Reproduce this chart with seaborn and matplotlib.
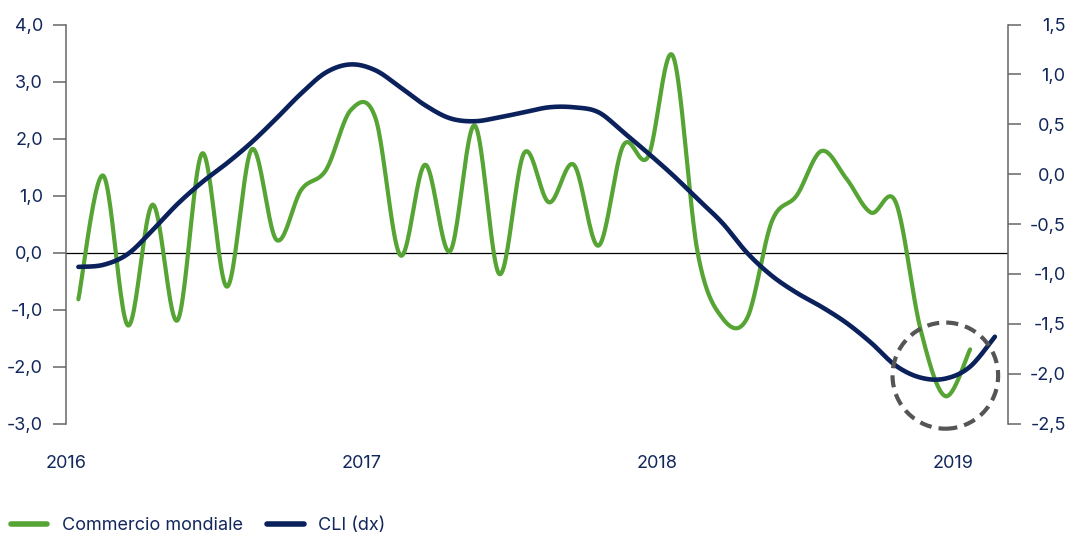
import numpy as np
import pandas as pd
import matplotlib
matplotlib.use("Agg")
import matplotlib.pyplot as plt
from matplotlib.patches import Ellipse
import seaborn as sns

# ---- data (monthly, Jan 2016 ...) ----
years = ["2016", "2017", "2018", "2019"]
commercio = [-0.82, 1.35, -1.28, 0.84, -1.19, 1.74, -0.60, 1.81, 0.22, 1.10, 1.45, 2.50,
             2.35, -0.05, 1.54, 0.02, 2.23, -0.38, 1.75, 0.88, 1.54, 0.12, 1.88, 1.68,
             3.45, 0.00, -1.15, -1.15, 0.55, 1.00, 1.78, 1.30, 0.70, 0.88, -1.35, -2.52,
             -1.70]
cli = [-0.93, -0.91, -0.80, -0.56, -0.30, -0.08, 0.11, 0.32, 0.56, 0.81, 1.02, 1.10,
       1.04, 0.87, 0.69, 0.56, 0.53, 0.57, 0.62, 0.67, 0.67, 0.62, 0.42, 0.21,
       -0.01, -0.25, -0.49, -0.79, -1.02, -1.19, -1.33, -1.49, -1.69, -1.92, -2.04, -2.05,
       -1.93, -1.63]
left_ticks = [4.0, 3.0, 2.0, 1.0, 0.0, -1.0, -2.0, -3.0]
right_ticks = [1.5, 1.0, 0.5, 0.0, -0.5, -1.0, -1.5, -2.0, -2.5]
labels = ["Commercio mondiale", "CLI (dx)"]

GREEN = "#56a434"
NAVY = "#0b215c"
TXT = "#12285c"
GRAY = "#666666"


def smooth(vals, n=24):
    """Excel-like smoothed line (Bezier through each monthly point)."""
    P = np.column_stack([np.arange(len(vals), dtype=float), np.asarray(vals, float)])
    out = []
    N = len(P)
    for i in range(N - 1):
        p0 = P[max(i - 1, 0)]
        p1 = P[i]
        p2 = P[i + 1]
        p3 = P[min(i + 2, N - 1)]
        c1 = p1 + (p2 - p0) / 6.0
        c2 = p2 - (p3 - p1) / 6.0
        t = np.linspace(0, 1, n, endpoint=(i == N - 2))[:, None]
        B = (1 - t) ** 3 * p1 + 3 * (1 - t) ** 2 * t * c1 + 3 * (1 - t) * t ** 2 * c2 + t ** 3 * p2
        out.append(B)
    B = np.vstack(out)
    return B[:, 0], B[:, 1]


sns.set_style("white")
plt.rcParams["font.family"] = ["Inter", "DejaVu Sans"]

fig = plt.figure(figsize=(10.69, 5.36), dpi=100)
W, H = 1069, 536
ax = fig.add_axes([66 / W, 1 - 423.5 / H, (1008 - 66) / W, (423.5 - 24.5) / H])
ax2 = ax.twinx()

gx, gy = smooth(commercio)
cx, cy = smooth(cli)
dfg = pd.DataFrame({"x": gx, "y": gy})
dfc = pd.DataFrame({"x": cx, "y": cy})

sns.lineplot(data=dfg, x="x", y="y", ax=ax, color=GREEN, lw=3.0, sort=False,
             estimator=None, label=labels[0], legend=False, solid_capstyle="round")
sns.lineplot(data=dfc, x="x", y="y", ax=ax2, color=NAVY, lw=3.3, sort=False,
             estimator=None, label=labels[1], legend=False, solid_capstyle="round")

ax.axhline(0, color="black", lw=0.9, zorder=1)

ax.set_xlim(-0.36, 37.53)
ax.set_ylim(-3, 4)
ax2.set_ylim(-2.5, 1.5)

ax.set_yticks(left_ticks)
ax.set_yticklabels([f"{v:.1f}".replace(".", ",") for v in left_ticks])
ax2.set_yticks(right_ticks)
ax2.set_yticklabels([f"{v:.1f}".replace(".", ",") for v in right_ticks])
ax.set_xticks([12 * k - 0.5 - 0.06 * k for k in range(len(years))])
ax.set_xticklabels(years)

ax.set_xlabel("")
ax.set_ylabel("")
ax2.set_xlabel("")
ax2.set_ylabel("")

for a in (ax, ax2):
    for s in a.spines.values():
        s.set_visible(False)
ax.spines["left"].set_visible(True)
ax.spines["left"].set_color(GRAY)
ax.spines["left"].set_linewidth(1.1)
ax2.spines["right"].set_visible(True)
ax2.spines["right"].set_color(GRAY)
ax2.spines["right"].set_linewidth(1.1)

ax.tick_params(axis="y", length=9.5, width=1.1, color=GRAY, pad=7,
               labelsize=13, labelcolor=TXT, direction="out")
ax.tick_params(axis="x", length=0, pad=23, labelsize=13, labelcolor=TXT)
ax2.tick_params(axis="y", length=9.5, width=1.1, color=GRAY, pad=32,
                labelsize=13, labelcolor=TXT, direction="out")
for t in ax2.get_yticklabels():
    t.set_horizontalalignment("right")

circ = Ellipse((35.0, -2.02), width=106 / 24.86, height=106 / 99.6,
               fill=False, edgecolor="#555555", lw=3.0, linestyle=(0, (2.9, 1.7)),
               zorder=10, clip_on=False)
ax2.add_patch(circ)

h1 = ax.get_lines()[0]
h2 = ax2.get_lines()[0]
leg = fig.legend([h1, h2], labels, loc="center left", bbox_to_anchor=(11 / W, 10 / H),
                 ncol=2, frameon=False, fontsize=13, handlelength=2.0,
                 handletextpad=0.8, columnspacing=1.38, borderpad=0, borderaxespad=0)
for t in leg.get_texts():
    t.set_color(TXT)
for l in leg.get_lines():
    l.set_linewidth(4)

fig.savefig("out.png", dpi=100)
